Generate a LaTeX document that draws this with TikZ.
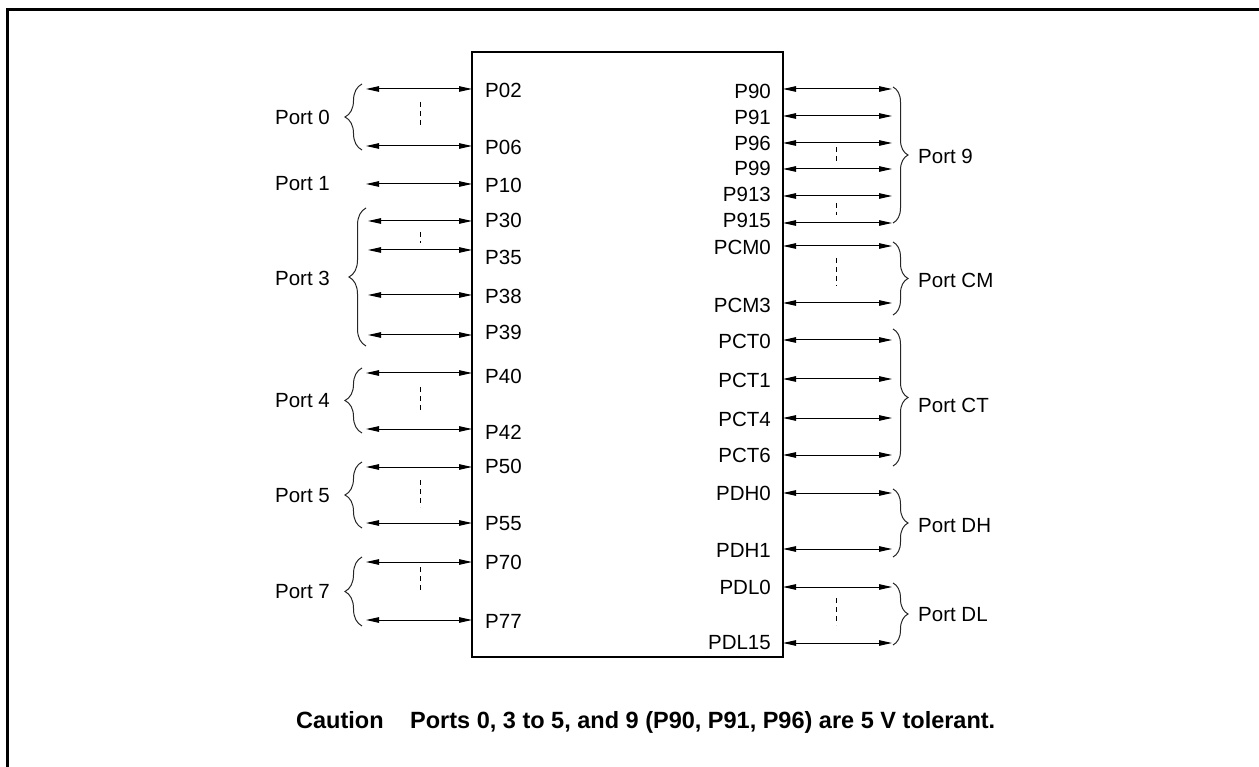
\documentclass[tikz,border=0pt]{standalone}
\usepackage{fontspec}
\setmainfont{Liberation Sans}
\usetikzlibrary{arrows.meta}
\usetikzlibrary{decorations.pathreplacing}
\tikzset{
    chipbox/.style = {rectangle, draw=black, line width=2.4pt, minimum width=311pt, minimum height=605pt, inner sep=0, outer sep=0},
    pinl/.style = {anchor=west, inner sep=0, font=\fontsize{20.5}{24}\selectfont},
    pinr/.style = {anchor=east, inner sep=0, font=\fontsize{20.5}{24}\selectfont},
    portl/.style = {anchor=east, inner sep=0, font=\fontsize{20.5}{24}\selectfont},
    portr/.style = {anchor=west, inner sep=0, font=\fontsize{20.5}{24}\selectfont},
    cautiontext/.style = {anchor=base west, inner sep=0, font=\fontsize{23.5}{27}\selectfont\bfseries},
    pinarrow/.style = {{Triangle[length=13pt,width=5.5pt]}-{Triangle[length=13pt,width=5.5pt]}, line width=1pt, black},
    bracel/.style = {decorate, decoration={brace, amplitude=17pt, aspect=0.5}, line width=1pt, black!85},
    bracer/.style = {decorate, decoration={brace, amplitude=15pt, aspect=0.5}, line width=1pt, black!85},
    omitted/.style = {line width=1pt, dash pattern=on 5pt off 4pt},
    frameline/.style = {line width=3.5pt, black}
}

\begin{document}
\begin{tikzpicture}[x=1pt,y=-1pt]
\useasboundingbox (0,0) rectangle (1259,767);

% frame
\coordinate (f1) at (7.5,767);
\coordinate (f2) at (7.5,9.5);
\coordinate (f3) at (1259,9.5);
\draw[frameline] (f1) -- (f2) -- (f3);

% chip
\node[chipbox] at (627.5,354.5) (chip) {};

% left pins
\node[pinl] at (485, 90) (p02) {P02};
\node[pinl] at (485,147) (p06) {P06};
\node[pinl] at (485,185) (p10) {P10};
\node[pinl] at (485,220) (p30) {P30};
\node[pinl] at (485,257) (p35) {P35};
\node[pinl] at (485,296) (p38) {P38};
\node[pinl] at (485,332) (p39) {P39};
\node[pinl] at (485,376) (p40) {P40};
\node[pinl] at (485,432) (p42) {P42};
\node[pinl] at (485,466) (p50) {P50};
\node[pinl] at (485,524) (p55) {P55};
\node[pinl] at (485,562) (p70) {P70};
\node[pinl] at (485,621) (p77) {P77};

\coordinate (a02) at (366, 89);
\coordinate (a06) at (366,146);
\coordinate (a10) at (366,184);
\coordinate (a30) at (368,221);
\coordinate (a35) at (368,250);
\coordinate (a38) at (368,295);
\coordinate (a39) at (368,335);
\coordinate (a40) at (366,373);
\coordinate (a42) at (366,429);
\coordinate (a50) at (366,467);
\coordinate (a55) at (366,523);
\coordinate (a70) at (366,562);
\coordinate (a77) at (366,620);

\draw[pinarrow] (a02) -- (a02 -| chip.west);
\draw[pinarrow] (a06) -- (a06 -| chip.west);
\draw[pinarrow] (a10) -- (a10 -| chip.west);
\draw[pinarrow] (a30) -- (a30 -| chip.west);
\draw[pinarrow] (a35) -- (a35 -| chip.west);
\draw[pinarrow] (a38) -- (a38 -| chip.west);
\draw[pinarrow] (a39) -- (a39 -| chip.west);
\draw[pinarrow] (a40) -- (a40 -| chip.west);
\draw[pinarrow] (a42) -- (a42 -| chip.west);
\draw[pinarrow] (a50) -- (a50 -| chip.west);
\draw[pinarrow] (a55) -- (a55 -| chip.west);
\draw[pinarrow] (a70) -- (a70 -| chip.west);
\draw[pinarrow] (a77) -- (a77 -| chip.west);

% right pins
\node[pinr] at (771, 91) (p90) {P90};
\node[pinr] at (771,117) (p91) {P91};
\node[pinr] at (771,143) (p96) {P96};
\node[pinr] at (771,168) (p99) {P99};
\node[pinr] at (771,194) (p913) {P913};
\node[pinr] at (771,220) (p915) {P915};
\node[pinr] at (771,247) (pcm0) {PCM0};
\node[pinr] at (771,305) (pcm3) {PCM3};
\node[pinr] at (771,341) (pct0) {PCT0};
\node[pinr] at (771,380) (pct1) {PCT1};
\node[pinr] at (771,419) (pct4) {PCT4};
\node[pinr] at (771,455) (pct6) {PCT6};
\node[pinr] at (771,493) (pdh0) {PDH0};
\node[pinr] at (771,550) (pdh1) {PDH1};
\node[pinr] at (771,587) (pdl0) {PDL0};
\node[pinr] at (771,643) (pdl15) {PDL15};

\coordinate (a90) at (892, 89);
\coordinate (a91) at (892,116);
\coordinate (a96) at (892,143);
\coordinate (a99) at (892,169);
\coordinate (a913) at (892,196);
\coordinate (a915) at (892,223);
\coordinate (acm0) at (892,246);
\coordinate (acm3) at (892,303);
\coordinate (act0) at (892,340);
\coordinate (act1) at (892,379);
\coordinate (act4) at (892,418);
\coordinate (act6) at (892,455);
\coordinate (adh0) at (892,493);
\coordinate (adh1) at (892,549);
\coordinate (adl0) at (892,587);
\coordinate (adl15) at (892,643);

\draw[pinarrow] (a90 -| chip.east) -- (a90);
\draw[pinarrow] (a91 -| chip.east) -- (a91);
\draw[pinarrow] (a96 -| chip.east) -- (a96);
\draw[pinarrow] (a99 -| chip.east) -- (a99);
\draw[pinarrow] (a913 -| chip.east) -- (a913);
\draw[pinarrow] (a915 -| chip.east) -- (a915);
\draw[pinarrow] (acm0 -| chip.east) -- (acm0);
\draw[pinarrow] (acm3 -| chip.east) -- (acm3);
\draw[pinarrow] (act0 -| chip.east) -- (act0);
\draw[pinarrow] (act1 -| chip.east) -- (act1);
\draw[pinarrow] (act4 -| chip.east) -- (act4);
\draw[pinarrow] (act6 -| chip.east) -- (act6);
\draw[pinarrow] (adh0 -| chip.east) -- (adh0);
\draw[pinarrow] (adh1 -| chip.east) -- (adh1);
\draw[pinarrow] (adl0 -| chip.east) -- (adl0);
\draw[pinarrow] (adl15 -| chip.east) -- (adl15);

% omitted pins
\coordinate (d0a) at (420,102); \coordinate (d0b) at (420,128);
\coordinate (d3a) at (420,232); \coordinate (d3b) at (420,243);
\coordinate (d4a) at (420,387); \coordinate (d4b) at (420,412);
\coordinate (d5a) at (420,480); \coordinate (d5b) at (420,507);
\coordinate (d7a) at (420,567); \coordinate (d7b) at (420,592);
\coordinate (d9a) at (836,147); \coordinate (d9b) at (836,163);
\coordinate (d9c) at (836,203); \coordinate (d9d) at (836,215);
\coordinate (dcma) at (836,258); \coordinate (dcmb) at (836,286);
\coordinate (ddla) at (836,598); \coordinate (ddlb) at (836,625);
\draw[omitted] (d0a) -- (d0b);
\draw[omitted] (d3a) -- (d3b);
\draw[omitted] (d4a) -- (d4b);
\draw[omitted] (d5a) -- (d5b);
\draw[omitted] (d7a) -- (d7b);
\draw[omitted] (d9a) -- (d9b);
\draw[omitted] (d9c) -- (d9d);
\draw[omitted] (dcma) -- (dcmb);
\draw[omitted] (ddla) -- (ddlb);

% left braces
\coordinate (b0a) at (362,150); \coordinate (b0b) at (362, 84);
\coordinate (b3a) at (366,346); \coordinate (b3b) at (366,208);
\coordinate (b4a) at (362,433); \coordinate (b4b) at (362,368);
\coordinate (b5a) at (362,528); \coordinate (b5b) at (362,462);
\coordinate (b7a) at (362,626); \coordinate (b7b) at (362,557);
\draw[bracel] (b0a) -- (b0b);
\draw[bracel] (b3a) -- (b3b);
\draw[bracel] (b4a) -- (b4b);
\draw[bracel] (b5a) -- (b5b);
\draw[bracel] (b7a) -- (b7b);

\node[portl] at (330,117) (port0) {Port 0};
\node[portl] at (330,184) (port1) {Port 1};
\node[portl] at (330,278) (port3) {Port 3};
\node[portl] at (330,401) (port4) {Port 4};
\node[portl] at (330,496) (port5) {Port 5};
\node[portl] at (330,592) (port7) {Port 7};

% right braces
\coordinate (b9a) at (893, 87); \coordinate (b9b) at (893,223);
\coordinate (bcma) at (893,242); \coordinate (bcmb) at (893,315);
\coordinate (bcta) at (893,329); \coordinate (bctb) at (893,466);
\coordinate (bdha) at (893,489); \coordinate (bdhb) at (893,557);
\coordinate (bdla) at (893,583); \coordinate (bdlb) at (893,645);
\draw[bracer] (b9a) -- (b9b);
\draw[bracer] (bcma) -- (bcmb);
\draw[bracer] (bcta) -- (bctb);
\draw[bracer] (bdha) -- (bdhb);
\draw[bracer] (bdla) -- (bdlb);

\node[portr] at (918,156) (port9) {Port 9};
\node[portr] at (918,280) (portcm) {Port CM};
\node[portr] at (918,405) (portct) {Port CT};
\node[portr] at (918,526) (portdh) {Port DH};
\node[portr] at (918,615) (portdl) {Port DL};

% caution
\node[cautiontext] at (296,728) (caution) {Caution};
\node[cautiontext] at (410,728) (tolerant) {Ports 0, 3 to 5, and 9 (P90, P91, P96) are 5 V tolerant.};

\end{tikzpicture}
\end{document}
